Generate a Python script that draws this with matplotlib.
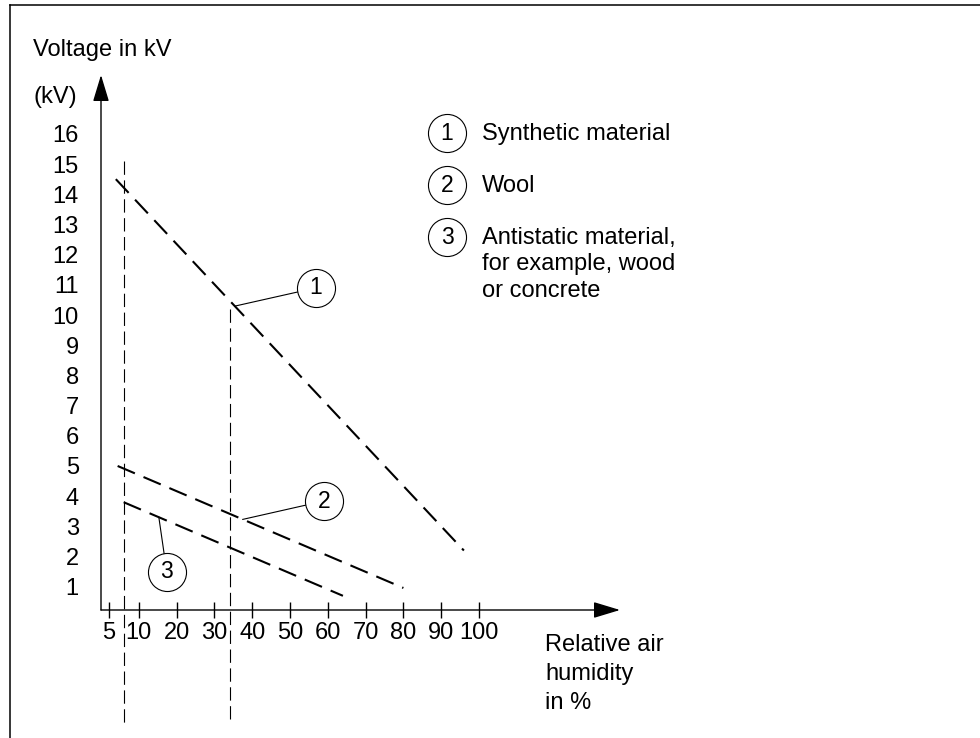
import numpy as np
import matplotlib
matplotlib.use("Agg")
from matplotlib import pyplot as plt
from matplotlib.lines import Line2D

plt.rcParams['font.family'] = ['Liberation Sans', 'DejaVu Sans']
FS = 17

# Voltage (kV) against relative air humidity (%)
synthetic_h = [6.2, 96]
synthetic_kv = [14.5, 2.2]
wool_h = [6.5, 80]
wool_kv = [5.0, 0.96]
antistatic_h = [7.5, 64]
antistatic_kv = [3.8, 0.7]

# vertical reference lines (humidity %, kV range)
ref_h = [7.5, 34]
ref_top = [15.1, 10.2]
ref_bottom = -3.5

x_ticks = [5, 10, 20, 30, 40, 50, 60, 70, 80, 90, 100]
y_ticks = list(range(1, 17))

# callouts: (number, point on the curve in %, circle position)
callout_nums = ['1', '2', '3']
callout_on_h = [35.4, 37.5, 15.3]
callout_circ_h = [56.9, 59.0, 17.4]
callout_circ_kv = [10.9, 3.84, 1.49]

legend_nums = ['1', '2', '3']
legend_texts = ['Synthetic material', 'Wool',
                'Antistatic material,\nfor example, wood\nor concrete']


# the humidity axis is squeezed between 0 and 10 %
def fwd(h):
    return np.interp(h, [0, 5, 10, 300], [0, 2, 10, 300])


def inv(p):
    return np.interp(p, [0, 2, 10, 300], [0, 5, 10, 300])


fig = plt.figure(figsize=(9.8, 7.38), dpi=100)
W, H = 980, 738
ax = fig.add_axes([101 / W, 1 - 610 / H, (620 - 101) / W, (610 - 75) / H])
ax.set_xscale('function', functions=(fwd, inv))
ax.set_xlim(0, 137.3)
ax.set_ylim(0.23, 17.95)
for s in ax.spines.values():
    s.set_visible(False)

# axes drawn as arrows
arrow = dict(arrowstyle='-|>,head_length=1.65,head_width=0.5', color='black',
             lw=1.0, shrinkA=0, shrinkB=0, mutation_scale=10)
ax.annotate('', xy=(1, 0), xytext=(0, 0), xycoords='axes fraction', arrowprops=arrow)
ax.annotate('', xy=(0, 1), xytext=(0, 0), xycoords='axes fraction', arrowprops=arrow)

ax.set_xticks(x_ticks)
ax.set_xticklabels([str(t) for t in x_ticks])
ax.tick_params(axis='x', direction='inout', length=11.5, width=1.0, labelsize=FS, pad=3)
ax.set_yticks(y_ticks)
ax.set_yticklabels([str(t) for t in y_ticks])
ax.tick_params(axis='y', length=0, labelsize=FS, pad=16)
ax.minorticks_off()

dash = (0, (9, 4.5))
curves = [(synthetic_h, synthetic_kv), (wool_h, wool_kv), (antistatic_h, antistatic_kv)]
for hh, kv in curves:
    ax.plot(hh, kv, color='black', lw=1.5, ls=dash, clip_on=False)

for h, top in zip(ref_h, ref_top):
    ax.plot([h, h], [top, ref_bottom], color='black', lw=0.8, ls=(0, (12, 5)), clip_on=False)

# callout circles with leader lines
for num, h0, hc, kc, (hh, kv) in zip(callout_nums, callout_on_h, callout_circ_h, callout_circ_kv, curves):
    k0 = np.interp(fwd(h0), fwd(np.array(hh)), kv)
    ax.plot([h0, hc], [k0, kc], color='black', lw=0.8, clip_on=False, zorder=3)
    ax.plot([hc], [kc], 'o', ms=27.4, mfc='white', mec='black', mew=0.8, clip_on=False, zorder=4)
    ax.text(hc, kc, num, ha='center', va='center', fontsize=FS - 0.5, zorder=5)

# legend
leg_y = [133, 185, 237]
for num, txt, y in zip(legend_nums, legend_texts, leg_y):
    ax.plot([447 / W], [1 - y / H], 'o', ms=27.4, mfc='white', mec='black', mew=0.8,
            transform=fig.transFigure, clip_on=False)
    fig.text(447 / W, 1 - y / H, num, ha='center', va='center', fontsize=FS - 0.5)
    fig.text(482 / W, 1 - (y - 10) / H, txt, ha='left', va='top', fontsize=FS,
             linespacing=1.26)

fig.text(33 / W, 1 - 50 / H, 'Voltage in kV', ha='left', va='center', fontsize=FS)
fig.text(33 / W, 1 - 97 / H, '(kV)', ha='left', va='center', fontsize=FS)
fig.text(545 / W, 1 - 634 / H, 'Relative air\nhumidity\nin %', ha='left', va='top',
         fontsize=FS, linespacing=1.4)

# frame lines along top and left
fig.add_artist(Line2D([10 / W, 1], [1 - 5 / H, 1 - 5 / H], color='black', lw=1.1))
fig.add_artist(Line2D([10 / W, 10 / W], [0, 1 - 5 / H], color='black', lw=1.1))

fig.savefig('out.png', dpi=100)
